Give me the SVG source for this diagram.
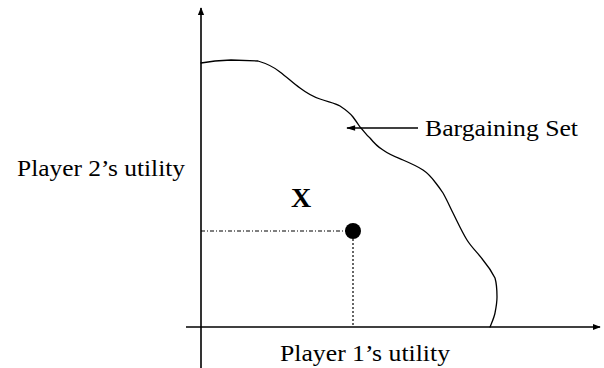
<svg xmlns="http://www.w3.org/2000/svg" width="604" height="368" viewBox="0 0 604 368">
<style>
.ax{stroke:#000;stroke-width:1.6;fill:none}
.cv{stroke:#000;stroke-width:1.3;fill:none;stroke-linejoin:round;stroke-linecap:round}
.lbl{font-family:"Liberation Serif","Times New Roman",serif;font-size:24px;fill:#000}
.dash{stroke:#000;stroke-width:1.2;fill:none}
</style>
<defs>
<marker id="ah" viewBox="0 0 10 10" refX="9" refY="5" markerWidth="8" markerHeight="8" markerUnits="userSpaceOnUse" orient="auto">
<path d="M0,1 L10,5 L0,9 Z" fill="#000"/>
</marker>
<marker id="ah2" viewBox="0 0 10 10" refX="9" refY="5" markerWidth="11" markerHeight="9" markerUnits="userSpaceOnUse" orient="auto">
<path d="M0,2 L10,5 L0,8 Z" fill="#000"/>
</marker>
</defs>
<rect width="604" height="368" fill="#fff"/>
<g id="axes">
<line class="ax" x1="201" y1="368" x2="201" y2="8" marker-end="url(#ah)"/>
<line class="ax" x1="186" y1="327" x2="600" y2="327" marker-end="url(#ah)"/>
</g>
<g id="bargaining-curve">
<path class="cv" d="M201,63 L215,61 L231,60 L258,61 C268,64 274,67 280,72 C288,78 294,84 300,88 C308,94 314,97 320,99 C328,102 335,103 340,106 C346,110 350,113 353,117 C356,121 358,124 360,127 C364,131 366,135 370,138 C374,143 378,147 383,150 C390,155 396,157 403,160 C410,163 417,166 423,170 C429,174 432,178 435,182 C439,187 441,190 443,193 C447,200 450,207 453,213 C458,223 462,232 467,240 C472,248 478,253 483,260 C488,266 492,272 495,278 C497,285 497,291 497,297 C497,303 496,308 495,313 C494,318 492,322 490,327"/>
</g>
<g id="point-x">
<circle cx="353" cy="231" r="8" fill="#000"/>
<text x="291" y="207" style="font-family:'Liberation Serif','Times New Roman',serif;font-size:28px;font-weight:bold">X</text>
</g>
<g id="connectors">
<line class="dash" x1="201" y1="231" x2="346" y2="231" stroke-dasharray="4,2,1,2"/>
<line class="dash" x1="353" y1="239" x2="353" y2="327" stroke-dasharray="2,2"/>
<line class="ax" x1="418" y1="128" x2="347" y2="128" stroke-width="1.4" marker-end="url(#ah2)"/>
</g>
<g id="label-bargaining">
<text class="lbl" x="425" y="136" textLength="153" lengthAdjust="spacingAndGlyphs">Bargaining Set</text>
</g>
<g id="label-p2">
<text class="lbl" x="17" y="176" textLength="168" lengthAdjust="spacingAndGlyphs">Player 2’s utility</text>
</g>
<g id="label-p1">
<text class="lbl" x="280" y="361" textLength="170" lengthAdjust="spacingAndGlyphs">Player 1’s utility</text>
</g>
</svg>
